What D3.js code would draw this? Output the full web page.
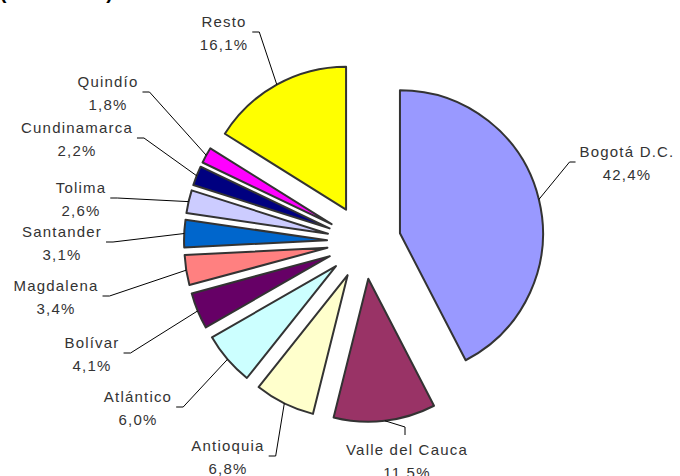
<!DOCTYPE html>
<html lang="es">
<head>
	<meta charset="UTF-8"/>
	<title>Participación por departamento</title>
	<script src="https://d3js.org/d3.v7.min.js"></script>
	<style>
		body { margin: 0; background: #fff; }
		svg { display: block; }
		.lbl { font-family: "Liberation Sans", Arial, sans-serif; font-size: 15px; fill: #333; letter-spacing: 1.2px; }
		.title { font-family: "Liberation Sans", Arial, sans-serif; font-size: 20px; font-weight: bold; fill: #000; }
	</style>
</head>
<body>
<script>
	// data, clockwise from 12 o'clock
	var regions = ["Bogotá D.C.", "Valle del Cauca", "Antioquia", "Atlántico", "Bolívar", "Magdalena",
	               "Santander", "Tolima", "Cundinamarca", "Quindío", "Resto"];
	var shares = [42.4, 11.5, 6.8, 6.0, 4.1, 3.4, 3.1, 2.6, 2.2, 1.8, 16.1];
	var shareLabels = ["42,4%", "11,5%", "6,8%", "6,0%", "4,1%", "3,4%", "3,1%", "2,6%", "2,2%", "1,8%", "16,1%"];

	var colors = ["#9999ff", "#993366", "#ffffcc", "#ccffff", "#660066", "#ff8080",
	              "#0066cc", "#ccccff", "#000080", "#ff00ff", "#ffff00"];

	// label layout: centre x, first baseline y, side the leader comes in from
	var labelPos = [
		[627, 157, "left"], [407, 455, "top"], [228, 451, "right"], [138, 402, "right"],
		[92, 348, "right"], [56, 291, "right"], [62, 237, "right"], [81, 193, "right"],
		[77, 133, "right"], [108, 87, "right"], [224, 27, "right"]
	];

	var w = 680, h = 476;
	var cx = 364, cy = 242, r = 143, explode = 37;

	var svg = d3.select("body").append("svg").attr("width", w).attr("height", h);

	// title is cut off by the top edge in the original, only its foot shows
	svg.append("text").attr("class", "title")
		.attr("x", 113).attr("y", -1)
		.attr("text-anchor", "end")
		.text("(% del total)");

	var pie = d3.pie().sort(null).value(function(d){ return d; });
	var arcs = pie(shares);
	var arc = d3.arc().innerRadius(0).outerRadius(r);

	function mid(d){ return (d.startAngle + d.endAngle) / 2; }
	function offset(d){
		var a = mid(d);
		return [cx + explode * Math.sin(a), cy - explode * Math.cos(a)];
	}

	svg.selectAll("path.slice").data(arcs).enter().append("path")
		.attr("class", "slice")
		.attr("transform", function(d){ return "translate(" + offset(d) + ")"; })
		.attr("d", arc)
		.attr("fill", function(d, i){ return colors[i]; })
		.attr("stroke", "#333")
		.attr("stroke-width", 2)
		.attr("stroke-linejoin", "round");

	var labels = svg.selectAll("g.lbl").data(arcs).enter().append("g").attr("class", "lbl");

	labels.each(function(d, i){
		var g = d3.select(this);
		var p = labelPos[i];
		var t = g.append("text").attr("text-anchor", "middle");
		t.append("tspan").attr("x", p[0]).attr("y", p[1]).text(regions[i]);
		t.append("tspan").attr("x", p[0]).attr("y", p[1] + 23).text(shareLabels[i]);

		var bb = t.node().getBBox();
		var o = offset(d), a = mid(d);
		var sx = o[0] + r * Math.sin(a), sy = o[1] - r * Math.cos(a);
		var my = bb.y + bb.height / 2 - 1;
		var pts;
		if (p[2] === "right") {
			var ex = bb.x + bb.width;
			pts = [[ex + 4, my], [ex + 11, my], [sx, sy]];
		} else if (p[2] === "left") {
			pts = [[bb.x - 4, my], [bb.x - 10, my], [sx, sy]];
		} else {
			pts = [[p[0] - 2, bb.y - 6], [p[0] - 2, bb.y - 14], [sx, sy]];
		}
		g.append("path")
			.attr("d", d3.line()(pts))
			.attr("fill", "none")
			.attr("stroke", "#000")
			.attr("stroke-width", 1);
	});
</script>
</body>
</html>
